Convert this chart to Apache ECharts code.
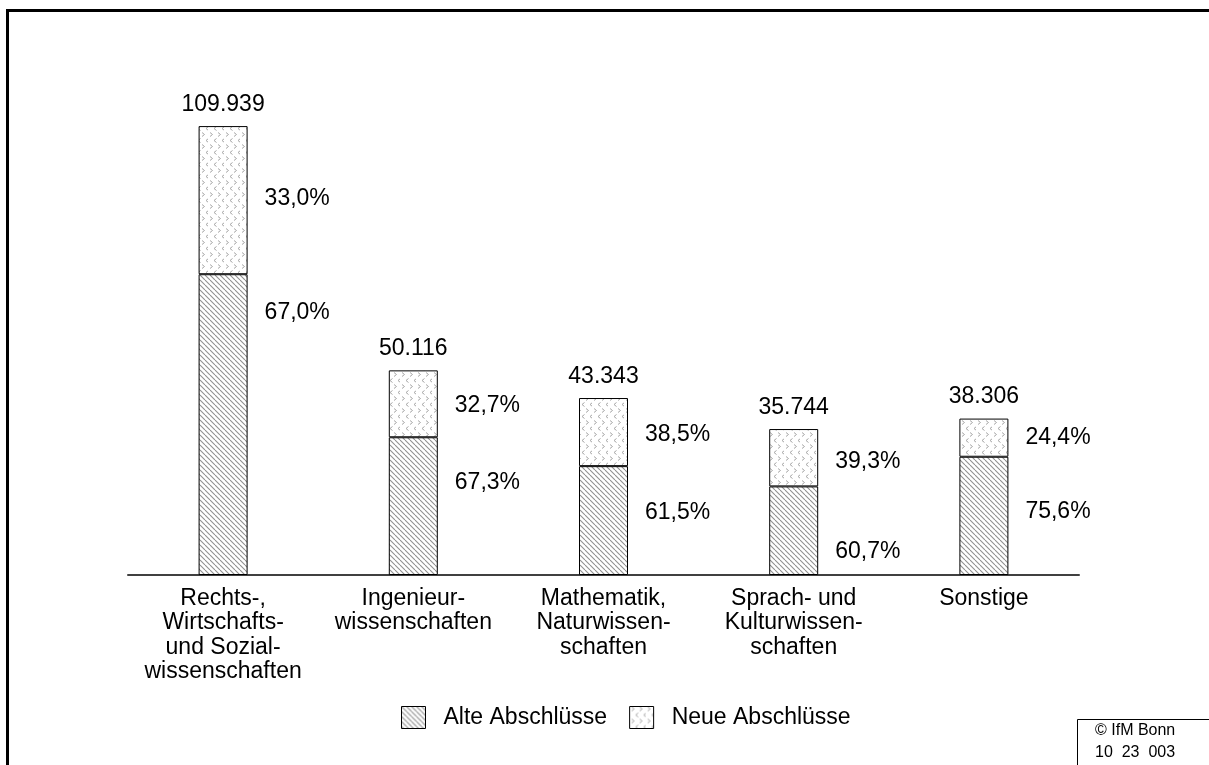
<!DOCTYPE html>
<html><head><meta charset="utf-8">
<script src="https://cdn.jsdelivr.net/npm/echarts@6/dist/echarts.min.js"></script>
<style>html,body{margin:0;padding:0;background:#fff}#c{width:1209px;height:765px}</style>
</head><body><div id="c"></div>
<script>
var categories = ['Rechts-,\nWirtschafts-\nund Sozial-\nwissenschaften', 'Ingenieur-\nwissenschaften', 'Mathematik,\nNaturwissen-\nschaften', 'Sprach- und\nKulturwissen-\nschaften', 'Sonstige'];
var totals = [109939, 50116, 43343, 35744, 38306];
var totalLabels = ['109.939', '50.116', '43.343', '35.744', '38.306'];
var pctAlt = [67.0, 67.3, 61.5, 60.7, 75.6];
var pctNeu = [33.0, 32.7, 38.5, 39.3, 24.4];
var seriesNames = ['Alte Abschlüsse', 'Neue Abschlüsse'];
// label vertical offsets (layout only)
var altLabelOffsets = [-112, -23, -8, 21, -4];
var neuLabelOffsets = [-1, 2, 3, 4, 0];

function fmtPct(v){ return v.toFixed(1).replace('.', ',') + '%'; }

function hatchCanvas(){
  var c = document.createElement('canvas'); c.width = 5; c.height = 5;
  var g = c.getContext('2d');
  g.fillStyle = '#fff'; g.fillRect(0,0,5,5);
  g.strokeStyle = '#8f8f8f'; g.lineWidth = 1.1;
  for (var k=-5;k<=5;k+=5){
    g.beginPath(); g.moveTo(k,0); g.lineTo(k+5,5); g.stroke();
  }
  return c;
}
function chevCanvas(){
  var c = document.createElement('canvas'); c.width = 16; c.height = 12;
  var g = c.getContext('2d');
  g.fillStyle = '#fff'; g.fillRect(0,0,16,12);
  g.strokeStyle = '#a8a8a8'; g.lineWidth = 1;
  function gt(x,y){ g.beginPath(); g.moveTo(x,y); g.lineTo(x+2.5,y+2); g.lineTo(x,y+4); g.stroke(); }
  function lt(x,y){ g.beginPath(); g.moveTo(x+2.5,y); g.lineTo(x,y+2); g.lineTo(x+2.5,y+4); g.stroke(); }
  gt(2,0.5); gt(10,0.5);
  lt(6,6.5); lt(14,6.5);
  return c;
}
var hatch = {image: hatchCanvas(), repeat: 'repeat'};
var chev = {image: chevCanvas(), repeat: 'repeat'};

var altVals = totals.map(function(t,i){ return t*pctAlt[i]/100; });
var neuVals = totals.map(function(t,i){ return t*pctNeu[i]/100; });

var font = 'Liberation Sans, Arial, sans-serif';
var fs = 23;
var chart = echarts.init(document.getElementById('c'), null, {renderer:'canvas'});
chart.setOption({
  animation: false,
  backgroundColor: '#fff',
  grid: {left: 128, right: 130, top: 85, bottom: 190},
  xAxis: {
    type: 'category', data: categories,
    axisLine: {lineStyle: {color: '#404040', width: 2}},
    axisTick: {show: false},
    axisLabel: {color: '#000', fontFamily: font, fontSize: fs, lineHeight: 24.5, margin: 11, interval: 0}
  },
  yAxis: {type: 'value', min: 0, max: 120000, show: false, splitLine: {show: false}},
  legend: {
    top: 701, left: 396, icon: 'rect', itemWidth: 24, itemHeight: 22, itemGap: 22,
    textStyle: {fontFamily: font, fontSize: fs, color: '#000', padding: [0, 0, 0, 13]},
    itemStyle: {borderColor: '#000', borderWidth: 1},
    data: seriesNames
  },
  series: [
    {
      name: seriesNames[0], type: 'bar', stack: 's', barWidth: 49,
      itemStyle: {color: hatch, borderColor: '#000', borderWidth: 1},
      data: altVals.map(function(v,i){ return {value: v, label: {offset: [0, altLabelOffsets[i]]}}; }),
      label: {show: true, position: 'right', distance: 17, fontFamily: font, fontSize: fs, color: '#000',
        formatter: function(p){ return fmtPct(pctAlt[p.dataIndex]); }}
    },
    {
      name: seriesNames[1], type: 'bar', stack: 's', barWidth: 49,
      itemStyle: {color: chev, borderColor: '#000', borderWidth: 1},
      data: neuVals.map(function(v,i){ return {value: v, label: {offset: [0, neuLabelOffsets[i]]}}; }),
      label: {show: true, position: 'right', distance: 17, fontFamily: font, fontSize: fs, color: '#000',
        formatter: function(p){ return fmtPct(pctNeu[p.dataIndex]); }}
    },
    {
      name: 'total', type: 'bar', barGap: '-100%', barWidth: 49, z: 5,
      itemStyle: {color: 'transparent'}, silent: true,
      data: totals,
      label: {show: true, position: 'top', distance: 10, fontFamily: font, fontSize: fs, color: '#000',
        formatter: function(p){ return totalLabels[p.dataIndex]; }}
    }
  ],
  graphic: [
    {type: 'rect', shape: {x: 7.5, y: 10.5, width: 1300, height: 900}, style: {fill: null, stroke: '#000', lineWidth: 3}, silent: true},
    {type: 'rect', shape: {x: 1077.5, y: 719.5, width: 200, height: 100}, style: {fill: '#fff', stroke: '#000', lineWidth: 1}, silent: true},
    {type: 'text', left: 1095, top: 720, style: {text: '© IfM Bonn\n10  23  003', fontFamily: font, fontSize: 16, lineHeight: 22, fill: '#000', align: 'center'}}
  ]
});
</script></body></html>
